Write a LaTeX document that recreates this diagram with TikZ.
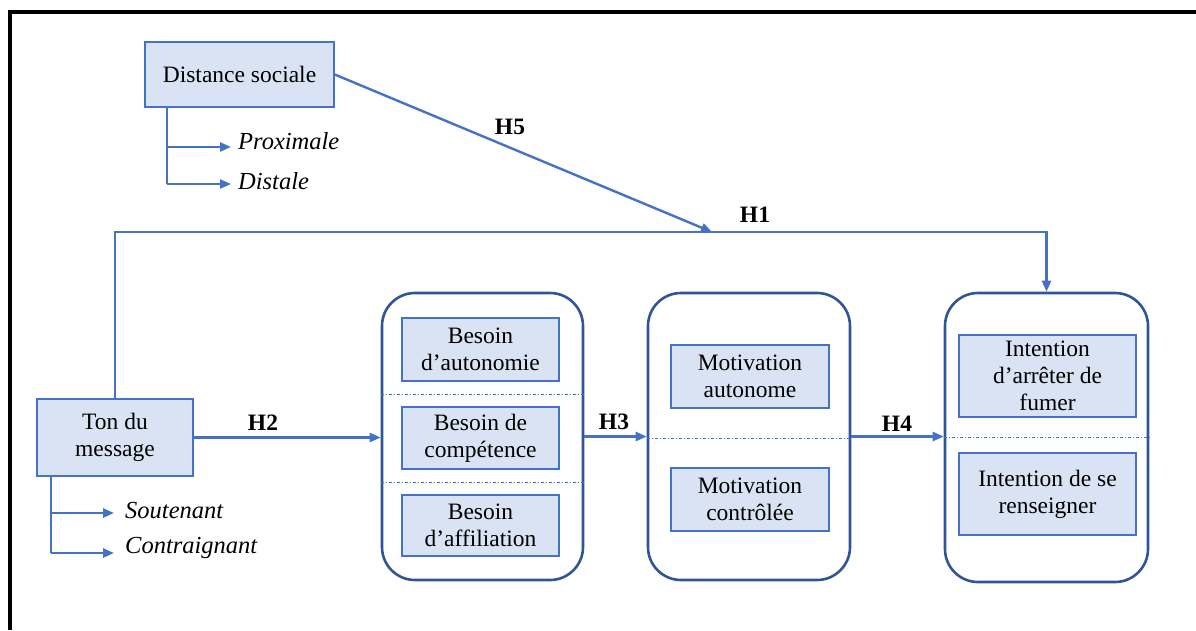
\documentclass[tikz,border=0pt]{standalone}
\usepackage{fontspec}
\setmainfont{Liberation Serif}
\usetikzlibrary{arrows.meta,calc}
\definecolor{fillb}{HTML}{DAE3F3}
\definecolor{lineb}{HTML}{4472C4}
\definecolor{darkb}{HTML}{2F5597}
\begin{document}
\begin{tikzpicture}[x=1pt,y=-1pt,
  every node/.style={font=\fontsize{23.5}{27}\selectfont, inner sep=0pt},
  varbox/.style={draw=lineb, fill=fillb, line width=1.5pt, align=center},
  group/.style={draw=darkb, line width=2.6pt, rounded corners=33pt},
  arr/.style={draw=lineb, line width=2.4pt, -{Triangle[length=11pt,width=9pt]}},
  plain/.style={draw=lineb, line width=2.4pt},
  sepline/.style={draw=lineb, line width=1pt, dash pattern=on 3pt off 2pt on 1pt off 2pt},
  hlab/.style={font=\fontsize{23.5}{27}\selectfont\bfseries},
  ilab/.style={font=\fontsize{24.5}{27}\selectfont\itshape, anchor=west}]
\useasboundingbox (0,0) rectangle (1196,630);
% frame
\draw[line width=4pt, line join=miter] (10,630) -- (10,12) -- (1196,12);

% variable boxes
\node[varbox, minimum width=189pt, minimum height=65pt] (ds) at (239.5,74.5) {Distance sociale};
\node[varbox, minimum width=156pt, minimum height=77pt] (ton) at (115,437.5) {Ton du\\message};

% groups
\node[group, minimum width=201pt, minimum height=287pt] (c1) at (482.5,436.5) {};
\node[group, minimum width=202pt, minimum height=287pt] (c2) at (749,436.5) {};
\node[group, minimum width=203pt, minimum height=289pt] (c3) at (1046.5,437.5) {};

\node[varbox, minimum width=157pt, minimum height=63pt] (b1a) at (480.5,349.5) {Besoin\\d’autonomie};
\node[varbox, minimum width=157pt, minimum height=62pt] (b1b) at (480.5,438) {Besoin de\\compétence};
\node[varbox, minimum width=157pt, minimum height=61pt] (b1c) at (480.5,525.5) {Besoin\\d’affiliation};

\node[varbox, minimum width=158pt, minimum height=63pt] (b2a) at (750,376.5) {Motivation\\autonome};
\node[varbox, minimum width=158pt, minimum height=63pt] (b2b) at (750,499.5) {Motivation\\contrôlée};

\node[varbox, minimum width=177pt, minimum height=82pt] (b3a) at (1047.5,376) {Intention\\d’arrêter de\\fumer};
\node[varbox, minimum width=177pt, minimum height=82pt] (b3b) at (1047.5,494) {Intention de se\\renseigner};

% separators
\coordinate (s1) at ($(b1a.south)!0.5!(b1b.north)$);
\coordinate (s2) at ($(b1b.south)!0.5!(b1c.north)$);
\draw[sepline] (c1.west |- s1) -- (c1.east |- s1);
\draw[sepline] (c1.west |- s2) -- (c1.east |- s2);
\coordinate (s3) at ($(b2a.south)!0.5!(b2b.north)$);
\draw[sepline] (c2.west |- s3) -- (c2.east |- s3);
\coordinate (s4) at (c3.center);
\draw[sepline] (c3.west |- s4) -- (c3.east |- s4);

% branches of Distance sociale
\node[ilab] (prox) at (238,141) {Proximale};
\node[ilab] (dist) at (238,181) {Distale};
\coordinate (dsb) at ([xshift=23pt]ds.south west);
\coordinate (pe) at (231,147);
\coordinate (de) at (231,184);
\draw[plain] (dsb) -- (dsb |- de);
\draw[arr] (dsb |- pe) -- (pe);
\draw[arr] (dsb |- de) -- (de);

% branches of Ton du message
\node[ilab] (sout) at (125,511) {Soutenant};
\node[ilab] (contr) at (125,548) {Contraignant};
\coordinate (tb) at ([xshift=15pt]ton.south west);
\coordinate (se) at (114,513);
\coordinate (ce) at (114,553);
\draw[plain] (tb) -- (tb |- ce);
\draw[arr] (tb |- se) -- (se);
\draw[arr] (tb |- ce) -- (ce);

% H1
\coordinate (h1y) at (0,232);
\draw[arr] (ton.north) -- (ton.north |- h1y) -| (c3.north);
\node[hlab] (h1) at (755,215) {H1};
% H5
\coordinate (h5e) at (712,232);
\draw[arr] (ds.east) -- (h5e);
\node[hlab] (h5) at (510,127) {H5};
% H2, H3, H4
\draw[arr] (ton.east) -- (ton.east -| c1.west);
\node[hlab] (h2) at (263,423) {H2};
\draw[arr] (c1.east) -- (c2.west);
\node[hlab] (h3) at (614,422) {H3};
\draw[arr] (c2.east) -- (c2.east -| c3.west);
\node[hlab] (h4) at (897,424) {H4};
\end{tikzpicture}
\end{document}
